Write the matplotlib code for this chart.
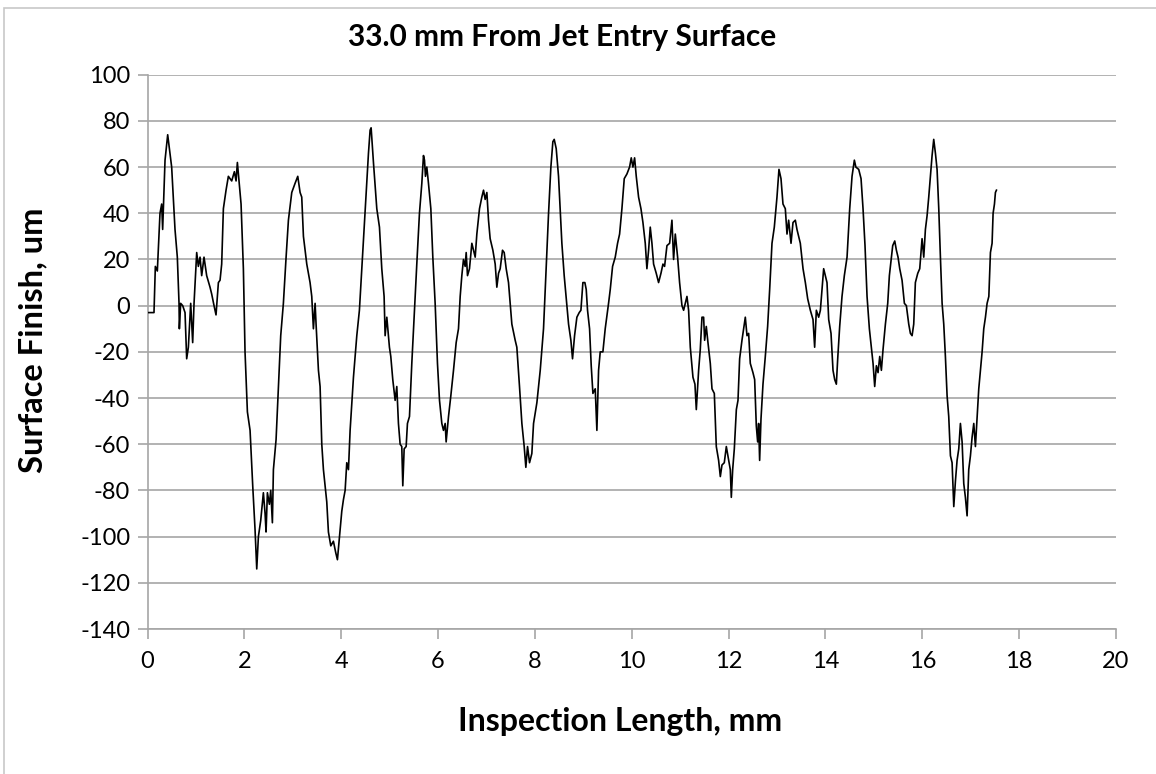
import matplotlib
matplotlib.use("Agg")
import matplotlib.pyplot as plt
from matplotlib.patches import Rectangle

plt.rcParams['font.family'] = ['Lato', 'DejaVu Sans']
plt.rcParams['axes.unicode_minus'] = False

# profile trace: inspection length (mm) vs surface height (um)
x_mm = [
    0.000, 0.134, 0.162, 0.203, 0.258, 0.293, 0.313, 0.362, 0.417, 0.499,
    0.568, 0.616, 0.651, 0.658, 0.685, 0.727, 0.775, 0.809, 0.844, 0.892,
    0.933, 0.961, 1.016, 1.050, 1.085, 1.119, 1.167, 1.222, 1.291, 1.326,
    1.374, 1.415, 1.464, 1.498, 1.532, 1.567, 1.622, 1.670, 1.739, 1.794,
    1.829, 1.856, 1.890, 1.932, 1.980, 2.014, 2.063, 2.118, 2.173, 2.221,
    2.256, 2.290, 2.338, 2.393, 2.428, 2.448, 2.476, 2.517, 2.545, 2.579,
    2.600, 2.655, 2.703, 2.751, 2.806, 2.862, 2.910, 2.979, 3.048, 3.103,
    3.151, 3.185, 3.220, 3.289, 3.357, 3.392, 3.426, 3.461, 3.481, 3.530,
    3.564, 3.599, 3.633, 3.667, 3.702, 3.736, 3.785, 3.839, 3.888, 3.922,
    3.964, 4.012, 4.046, 4.081, 4.115, 4.150, 4.184, 4.253, 4.322, 4.376,
    4.425, 4.494, 4.563, 4.597, 4.618, 4.666, 4.735, 4.790, 4.838, 4.886,
    4.907, 4.942, 4.996, 5.024, 5.065, 5.114, 5.148, 5.182, 5.217, 5.251,
    5.272, 5.300, 5.341, 5.368, 5.410, 5.458, 5.513, 5.561, 5.616, 5.665,
    5.699, 5.720, 5.740, 5.768, 5.802, 5.851, 5.892, 5.940, 5.988, 6.030,
    6.078, 6.112, 6.147, 6.167, 6.216, 6.264, 6.319, 6.374, 6.422, 6.457,
    6.491, 6.525, 6.560, 6.581, 6.608, 6.649, 6.698, 6.732, 6.767, 6.801,
    6.856, 6.904, 6.939, 6.973, 7.008, 7.042, 7.076, 7.132, 7.180, 7.214,
    7.249, 7.283, 7.331, 7.366, 7.407, 7.455, 7.524, 7.593, 7.627, 7.682,
    7.731, 7.779, 7.813, 7.848, 7.889, 7.937, 7.972, 8.041, 8.110, 8.178,
    8.233, 8.282, 8.330, 8.371, 8.399, 8.440, 8.488, 8.557, 8.605, 8.647,
    8.695, 8.743, 8.777, 8.819, 8.867, 8.915, 8.950, 8.991, 9.032, 9.060,
    9.087, 9.129, 9.163, 9.198, 9.246, 9.280, 9.315, 9.349, 9.404, 9.452,
    9.521, 9.556, 9.604, 9.659, 9.707, 9.749, 9.797, 9.845, 9.900, 9.955,
    9.990, 10.024, 10.059, 10.093, 10.141, 10.190, 10.231, 10.279, 10.313, 10.348,
    10.382, 10.417, 10.451, 10.506, 10.554, 10.603, 10.644, 10.678, 10.727, 10.782,
    10.830, 10.864, 10.899, 10.947, 10.988, 11.037, 11.071, 11.105, 11.140, 11.174,
    11.209, 11.264, 11.305, 11.333, 11.381, 11.415, 11.450, 11.484, 11.505, 11.539,
    11.574, 11.622, 11.657, 11.705, 11.746, 11.794, 11.829, 11.863, 11.911, 11.953,
    12.001, 12.035, 12.056, 12.084, 12.118, 12.160, 12.194, 12.228, 12.276, 12.345,
    12.380, 12.414, 12.448, 12.503, 12.538, 12.572, 12.600, 12.620, 12.641, 12.669,
    12.710, 12.758, 12.806, 12.848, 12.896, 12.944, 12.999, 13.040, 13.082, 13.123,
    13.171, 13.206, 13.240, 13.289, 13.330, 13.378, 13.412, 13.481, 13.537, 13.585,
    13.633, 13.688, 13.743, 13.777, 13.812, 13.860, 13.895, 13.929, 13.963, 13.998,
    14.032, 14.067, 14.115, 14.156, 14.191, 14.225, 14.253, 14.294, 14.342, 14.390,
    14.446, 14.501, 14.549, 14.597, 14.628, 14.687, 14.735, 14.776, 14.817, 14.859,
    14.907, 14.948, 14.983, 15.017, 15.052, 15.086, 15.121, 15.155, 15.189, 15.238,
    15.286, 15.320, 15.362, 15.389, 15.431, 15.465, 15.499, 15.534, 15.582, 15.630,
    15.671, 15.720, 15.754, 15.789, 15.823, 15.857, 15.906, 15.947, 15.995, 16.030,
    16.064, 16.099, 16.133, 16.167, 16.202, 16.236, 16.271, 16.305, 16.340, 16.374,
    16.409, 16.443, 16.477, 16.512, 16.546, 16.581, 16.615, 16.650, 16.684, 16.718,
    16.753, 16.787, 16.822, 16.856, 16.890, 16.925, 16.959, 16.994, 17.028, 17.063,
    17.097, 17.132, 17.166, 17.200, 17.235, 17.269, 17.304, 17.338, 17.374, 17.407,
    17.441, 17.462, 17.490, 17.510, 17.531,
]

y_um = [
    -3, -3, 17, 15, 40, 44, 33, 63, 74, 60,
    33, 21, 1, -10, 1, 0, -3, -23, -18, 1,
    -16, 1, 23, 17, 21, 13, 21, 13, 8, 5,
    0, -4, 10, 11, 18, 42, 50, 56, 54, 58,
    54, 62, 54, 44, 16, -20, -46, -54, -78, -97,
    -114, -100, -93, -81, -90, -98, -81, -86, -80, -94,
    -71, -58, -35, -13, 1, 21, 37, 49, 53, 56,
    49, 47, 30, 18, 10, 4, -10, 1, -8, -28,
    -35, -60, -71, -78, -85, -98, -104, -102, -107, -110,
    -100, -89, -84, -80, -68, -71, -54, -31, -13, -2,
    16, 42, 66, 76, 77, 62, 42, 34, 16, 4,
    -13, -5, -18, -22, -32, -41, -35, -51, -60, -61,
    -78, -62, -61, -51, -48, -25, -2, 18, 40, 53,
    65, 63, 56, 60, 53, 42, 21, 1, -25, -41,
    -51, -54, -51, -59, -48, -39, -28, -16, -10, 4,
    13, 20, 17, 23, 13, 16, 27, 24, 21, 31,
    42, 47, 50, 46, 49, 37, 29, 24, 18, 8,
    14, 16, 24, 23, 16, 10, -8, -15, -18, -35,
    -51, -61, -70, -61, -68, -64, -51, -42, -28, -10,
    16, 40, 60, 71, 72, 68, 56, 27, 13, 3,
    -8, -15, -23, -13, -5, -3, -2, 10, 10, 7,
    -2, -10, -26, -38, -36, -54, -28, -20, -20, -10,
    1, 7, 17, 21, 27, 31, 42, 55, 57, 60,
    64, 60, 64, 56, 47, 42, 36, 27, 16, 24,
    34, 27, 18, 14, 10, 14, 18, 17, 26, 27,
    37, 20, 31, 21, 10, 0, -2, 1, 4, -2,
    -18, -31, -34, -45, -28, -19, -5, -5, -15, -9,
    -16, -25, -36, -38, -61, -67, -74, -69, -68, -61,
    -67, -71, -83, -71, -62, -45, -41, -23, -15, -5,
    -13, -12, -25, -29, -32, -52, -59, -51, -67, -49,
    -34, -22, -9, 7, 27, 34, 47, 59, 55, 44,
    42, 31, 37, 27, 36, 37, 33, 27, 16, 10,
    3, -2, -6, -18, -2, -5, -2, 7, 16, 13,
    10, -6, -12, -28, -32, -34, -23, -9, 4, 13,
    21, 42, 56, 63, 60, 59, 55, 42, 26, 4,
    -10, -18, -25, -35, -26, -29, -22, -28, -19, -8,
    1, 13, 21, 26, 28, 24, 21, 16, 11, 1,
    0, -8, -12, -13, -8, 10, 14, 16, 29, 21,
    33, 39, 47, 56, 65, 72, 66, 59, 42, 21,
    1, -8, -22, -39, -48, -65, -68, -87, -76, -67,
    -62, -51, -59, -77, -83, -91, -71, -65, -57, -51,
    -61, -48, -36, -28, -20, -10, -5, 1, 4, 23,
    27, 40, 44, 49, 50,
]

x_ticks = list(range(0, 21, 2))
y_ticks = list(range(-140, 101, 20))

W, H = 1156, 774
fig = plt.figure(figsize=(W / 100, H / 100), dpi=100)
fig.patch.set_facecolor('white')

# light chart-area frame (runs off the right and bottom edges)
fig.patches.append(Rectangle((4 / W, -0.1), 1.2, 1.1 - 8 / H,
                             transform=fig.transFigure, fill=False,
                             edgecolor='#c8c8c8', linewidth=1.2))

ax = fig.add_axes([147.5 / W, 1 - 629 / H, (1116 - 147.5) / W, (629 - 74.7) / H])

grid_c = '#a6a6a6'
ax.plot(x_mm, y_um, color='black', linewidth=1.2, zorder=3)

ax.set_xlim(0, 20)
ax.set_ylim(-140, 100)
ax.set_xticks(x_ticks)
ax.set_yticks(y_ticks)
ax.yaxis.grid(True, color=grid_c, linewidth=1.2)
ax.set_axisbelow(True)
for side in ('top', 'right'):
    ax.spines[side].set_visible(False)
for side in ('left', 'bottom'):
    ax.spines[side].set_color(grid_c)
    ax.spines[side].set_linewidth(1.2)
ax.tick_params(direction='out', length=7.5, width=1.2, color=grid_c,
               labelsize=17, labelcolor='black')
ax.tick_params(axis='x', pad=8)
ax.tick_params(axis='y', pad=5)

fig.text(0.486, 1 - 37 / H, '33.0 mm From Jet Entry Surface', ha='center',
         va='center', fontsize=21.5, fontweight='bold')
fig.text(620 / W, 1 - 721 / H, 'Inspection Length, mm', ha='center',
         va='center', fontsize=23, fontweight='bold')
fig.text(33 / W, 1 - 340 / H, 'Surface Finish, um', ha='center',
         va='center', rotation=90, fontsize=23.5, fontweight='bold')

fig.savefig('out.png', dpi=100)
